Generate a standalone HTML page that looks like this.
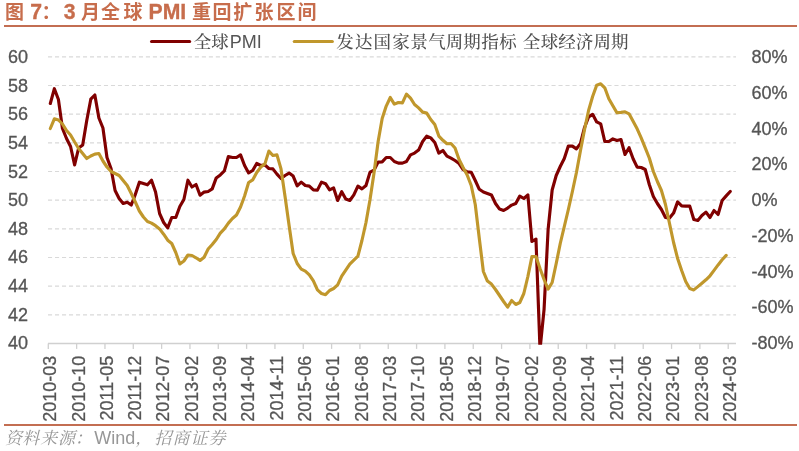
<!DOCTYPE html>
<html lang="zh-CN"><head><meta charset="utf-8"><title>图 7：3 月全球 PMI 重回扩张区间</title>
<style>html,body{margin:0;padding:0;background:#fff;}body{width:799px;height:451px;overflow:hidden;}svg{display:block;}text{white-space:pre;}.ax{stroke:#555555;stroke-width:0.3px;}</style>
</head><body>
<svg width="799" height="451" viewBox="0 0 799 451">
<rect x="0" y="0" width="799" height="451" fill="#ffffff"/>
<text y="19" font-family='"Liberation Sans", "Noto Sans CJK SC", sans-serif' font-weight="bold" fill="#C76D4C"><tspan x="4.90" font-size="19">图</tspan><tspan x="24.40" font-size="21.2" font-weight="bold" stroke="#C76D4C" stroke-width="0.3"> 7</tspan><tspan x="41.50" font-size="19">：</tspan><tspan x="63.70" font-size="21.2" font-weight="bold" stroke="#C76D4C" stroke-width="0.3">3 </tspan><tspan x="81.00" font-size="19">月</tspan><tspan x="101.00" font-size="19">全</tspan><tspan x="123.50" font-size="19">球</tspan><tspan x="142.70" font-size="21.2" font-weight="bold" stroke="#C76D4C" stroke-width="0.3"> PMI </tspan><tspan x="192.00" font-size="19">重</tspan><tspan x="212.50" font-size="19">回</tspan><tspan x="233.20" font-size="19">扩</tspan><tspan x="254.50" font-size="19">张</tspan><tspan x="276.50" font-size="19">区</tspan><tspan x="297.50" font-size="19">间</tspan></text>
<rect x="4" y="25" width="793" height="2" fill="#C36E52"/>
<line x1="48" y1="56.85" x2="736" y2="56.85" stroke="#D9D9D9" stroke-width="1.15" stroke-dasharray="4.1 2.893"/>
<line x1="48" y1="85.52" x2="736" y2="85.52" stroke="#D9D9D9" stroke-width="1.15" stroke-dasharray="4.1 2.893"/>
<line x1="48" y1="114.18" x2="736" y2="114.18" stroke="#D9D9D9" stroke-width="1.15" stroke-dasharray="4.1 2.893"/>
<line x1="48" y1="142.84" x2="736" y2="142.84" stroke="#D9D9D9" stroke-width="1.15" stroke-dasharray="4.1 2.893"/>
<line x1="48" y1="171.51" x2="736" y2="171.51" stroke="#D9D9D9" stroke-width="1.15" stroke-dasharray="4.1 2.893"/>
<line x1="48" y1="200.17" x2="736" y2="200.17" stroke="#D9D9D9" stroke-width="1.15" stroke-dasharray="4.1 2.893"/>
<line x1="48" y1="228.84" x2="736" y2="228.84" stroke="#D9D9D9" stroke-width="1.15" stroke-dasharray="4.1 2.893"/>
<line x1="48" y1="257.50" x2="736" y2="257.50" stroke="#D9D9D9" stroke-width="1.15" stroke-dasharray="4.1 2.893"/>
<line x1="48" y1="286.17" x2="736" y2="286.17" stroke="#D9D9D9" stroke-width="1.15" stroke-dasharray="4.1 2.893"/>
<line x1="48" y1="314.84" x2="736" y2="314.84" stroke="#D9D9D9" stroke-width="1.15" stroke-dasharray="4.1 2.893"/>
<line x1="48" y1="343.5" x2="736" y2="343.5" stroke="#D0D0D0" stroke-width="1.3"/>
<line x1="48.30" y1="343.5" x2="48.30" y2="348.9" stroke="#D0D0D0" stroke-width="1.3"/>
<line x1="76.63" y1="343.5" x2="76.63" y2="348.9" stroke="#D0D0D0" stroke-width="1.3"/>
<line x1="104.96" y1="343.5" x2="104.96" y2="348.9" stroke="#D0D0D0" stroke-width="1.3"/>
<line x1="133.29" y1="343.5" x2="133.29" y2="348.9" stroke="#D0D0D0" stroke-width="1.3"/>
<line x1="161.62" y1="343.5" x2="161.62" y2="348.9" stroke="#D0D0D0" stroke-width="1.3"/>
<line x1="189.95" y1="343.5" x2="189.95" y2="348.9" stroke="#D0D0D0" stroke-width="1.3"/>
<line x1="218.28" y1="343.5" x2="218.28" y2="348.9" stroke="#D0D0D0" stroke-width="1.3"/>
<line x1="246.61" y1="343.5" x2="246.61" y2="348.9" stroke="#D0D0D0" stroke-width="1.3"/>
<line x1="274.94" y1="343.5" x2="274.94" y2="348.9" stroke="#D0D0D0" stroke-width="1.3"/>
<line x1="303.26" y1="343.5" x2="303.26" y2="348.9" stroke="#D0D0D0" stroke-width="1.3"/>
<line x1="331.59" y1="343.5" x2="331.59" y2="348.9" stroke="#D0D0D0" stroke-width="1.3"/>
<line x1="359.92" y1="343.5" x2="359.92" y2="348.9" stroke="#D0D0D0" stroke-width="1.3"/>
<line x1="388.25" y1="343.5" x2="388.25" y2="348.9" stroke="#D0D0D0" stroke-width="1.3"/>
<line x1="416.58" y1="343.5" x2="416.58" y2="348.9" stroke="#D0D0D0" stroke-width="1.3"/>
<line x1="444.91" y1="343.5" x2="444.91" y2="348.9" stroke="#D0D0D0" stroke-width="1.3"/>
<line x1="473.24" y1="343.5" x2="473.24" y2="348.9" stroke="#D0D0D0" stroke-width="1.3"/>
<line x1="501.57" y1="343.5" x2="501.57" y2="348.9" stroke="#D0D0D0" stroke-width="1.3"/>
<line x1="529.90" y1="343.5" x2="529.90" y2="348.9" stroke="#D0D0D0" stroke-width="1.3"/>
<line x1="558.23" y1="343.5" x2="558.23" y2="348.9" stroke="#D0D0D0" stroke-width="1.3"/>
<line x1="586.56" y1="343.5" x2="586.56" y2="348.9" stroke="#D0D0D0" stroke-width="1.3"/>
<line x1="614.89" y1="343.5" x2="614.89" y2="348.9" stroke="#D0D0D0" stroke-width="1.3"/>
<line x1="643.22" y1="343.5" x2="643.22" y2="348.9" stroke="#D0D0D0" stroke-width="1.3"/>
<line x1="671.55" y1="343.5" x2="671.55" y2="348.9" stroke="#D0D0D0" stroke-width="1.3"/>
<line x1="699.88" y1="343.5" x2="699.88" y2="348.9" stroke="#D0D0D0" stroke-width="1.3"/>
<line x1="728.21" y1="343.5" x2="728.21" y2="348.9" stroke="#D0D0D0" stroke-width="1.3"/>
<text x="28" y="63.25" class="ax" text-anchor="end" font-family='"Liberation Sans", Arial, sans-serif' font-size="18" fill="#555555">60</text>
<text x="28" y="91.84" class="ax" text-anchor="end" font-family='"Liberation Sans", Arial, sans-serif' font-size="18" fill="#555555">58</text>
<text x="28" y="120.42" class="ax" text-anchor="end" font-family='"Liberation Sans", Arial, sans-serif' font-size="18" fill="#555555">56</text>
<text x="28" y="149.00" class="ax" text-anchor="end" font-family='"Liberation Sans", Arial, sans-serif' font-size="18" fill="#555555">54</text>
<text x="28" y="177.59" class="ax" text-anchor="end" font-family='"Liberation Sans", Arial, sans-serif' font-size="18" fill="#555555">52</text>
<text x="28" y="206.17" class="ax" text-anchor="end" font-family='"Liberation Sans", Arial, sans-serif' font-size="18" fill="#555555">50</text>
<text x="28" y="234.76" class="ax" text-anchor="end" font-family='"Liberation Sans", Arial, sans-serif' font-size="18" fill="#555555">48</text>
<text x="28" y="263.34" class="ax" text-anchor="end" font-family='"Liberation Sans", Arial, sans-serif' font-size="18" fill="#555555">46</text>
<text x="28" y="291.93" class="ax" text-anchor="end" font-family='"Liberation Sans", Arial, sans-serif' font-size="18" fill="#555555">44</text>
<text x="28" y="320.51" class="ax" text-anchor="end" font-family='"Liberation Sans", Arial, sans-serif' font-size="18" fill="#555555">42</text>
<text x="28" y="349.10" class="ax" text-anchor="end" font-family='"Liberation Sans", Arial, sans-serif' font-size="18" fill="#555555">40</text>
<text class="ax" x="751.6" y="63.25" font-family='"Liberation Sans", Arial, sans-serif' font-size="18" fill="#555555">80%</text>
<text class="ax" x="751.6" y="98.97" font-family='"Liberation Sans", Arial, sans-serif' font-size="18" fill="#555555">60%</text>
<text class="ax" x="751.6" y="134.69" font-family='"Liberation Sans", Arial, sans-serif' font-size="18" fill="#555555">40%</text>
<text class="ax" x="751.6" y="170.41" font-family='"Liberation Sans", Arial, sans-serif' font-size="18" fill="#555555">20%</text>
<text class="ax" x="751.6" y="206.12" font-family='"Liberation Sans", Arial, sans-serif' font-size="18" fill="#555555">0%</text>
<text class="ax" x="751.6" y="241.84" font-family='"Liberation Sans", Arial, sans-serif' font-size="18" fill="#555555">-20%</text>
<text class="ax" x="751.6" y="277.56" font-family='"Liberation Sans", Arial, sans-serif' font-size="18" fill="#555555">-40%</text>
<text class="ax" x="751.6" y="313.28" font-family='"Liberation Sans", Arial, sans-serif' font-size="18" fill="#555555">-60%</text>
<text class="ax" x="751.6" y="349.00" font-family='"Liberation Sans", Arial, sans-serif' font-size="18" fill="#555555">-80%</text>
<text transform="translate(56.17,355.7) rotate(-90)" class="ax" text-anchor="end" font-family='"Liberation Sans", Arial, sans-serif' font-size="18" fill="#555555">2010-03</text>
<text transform="translate(84.50,355.7) rotate(-90)" class="ax" text-anchor="end" font-family='"Liberation Sans", Arial, sans-serif' font-size="18" fill="#555555">2010-10</text>
<text transform="translate(112.83,355.7) rotate(-90)" class="ax" text-anchor="end" font-family='"Liberation Sans", Arial, sans-serif' font-size="18" fill="#555555">2011-05</text>
<text transform="translate(141.16,355.7) rotate(-90)" class="ax" text-anchor="end" font-family='"Liberation Sans", Arial, sans-serif' font-size="18" fill="#555555">2011-12</text>
<text transform="translate(169.49,355.7) rotate(-90)" class="ax" text-anchor="end" font-family='"Liberation Sans", Arial, sans-serif' font-size="18" fill="#555555">2012-07</text>
<text transform="translate(197.82,355.7) rotate(-90)" class="ax" text-anchor="end" font-family='"Liberation Sans", Arial, sans-serif' font-size="18" fill="#555555">2013-02</text>
<text transform="translate(226.15,355.7) rotate(-90)" class="ax" text-anchor="end" font-family='"Liberation Sans", Arial, sans-serif' font-size="18" fill="#555555">2013-09</text>
<text transform="translate(254.48,355.7) rotate(-90)" class="ax" text-anchor="end" font-family='"Liberation Sans", Arial, sans-serif' font-size="18" fill="#555555">2014-04</text>
<text transform="translate(282.81,355.7) rotate(-90)" class="ax" text-anchor="end" font-family='"Liberation Sans", Arial, sans-serif' font-size="18" fill="#555555">2014-11</text>
<text transform="translate(311.14,355.7) rotate(-90)" class="ax" text-anchor="end" font-family='"Liberation Sans", Arial, sans-serif' font-size="18" fill="#555555">2015-06</text>
<text transform="translate(339.47,355.7) rotate(-90)" class="ax" text-anchor="end" font-family='"Liberation Sans", Arial, sans-serif' font-size="18" fill="#555555">2016-01</text>
<text transform="translate(367.80,355.7) rotate(-90)" class="ax" text-anchor="end" font-family='"Liberation Sans", Arial, sans-serif' font-size="18" fill="#555555">2016-08</text>
<text transform="translate(396.13,355.7) rotate(-90)" class="ax" text-anchor="end" font-family='"Liberation Sans", Arial, sans-serif' font-size="18" fill="#555555">2017-03</text>
<text transform="translate(424.46,355.7) rotate(-90)" class="ax" text-anchor="end" font-family='"Liberation Sans", Arial, sans-serif' font-size="18" fill="#555555">2017-10</text>
<text transform="translate(452.79,355.7) rotate(-90)" class="ax" text-anchor="end" font-family='"Liberation Sans", Arial, sans-serif' font-size="18" fill="#555555">2018-05</text>
<text transform="translate(481.11,355.7) rotate(-90)" class="ax" text-anchor="end" font-family='"Liberation Sans", Arial, sans-serif' font-size="18" fill="#555555">2018-12</text>
<text transform="translate(509.44,355.7) rotate(-90)" class="ax" text-anchor="end" font-family='"Liberation Sans", Arial, sans-serif' font-size="18" fill="#555555">2019-07</text>
<text transform="translate(537.77,355.7) rotate(-90)" class="ax" text-anchor="end" font-family='"Liberation Sans", Arial, sans-serif' font-size="18" fill="#555555">2020-02</text>
<text transform="translate(566.10,355.7) rotate(-90)" class="ax" text-anchor="end" font-family='"Liberation Sans", Arial, sans-serif' font-size="18" fill="#555555">2020-09</text>
<text transform="translate(594.43,355.7) rotate(-90)" class="ax" text-anchor="end" font-family='"Liberation Sans", Arial, sans-serif' font-size="18" fill="#555555">2021-04</text>
<text transform="translate(622.76,355.7) rotate(-90)" class="ax" text-anchor="end" font-family='"Liberation Sans", Arial, sans-serif' font-size="18" fill="#555555">2021-11</text>
<text transform="translate(651.09,355.7) rotate(-90)" class="ax" text-anchor="end" font-family='"Liberation Sans", Arial, sans-serif' font-size="18" fill="#555555">2022-06</text>
<text transform="translate(679.42,355.7) rotate(-90)" class="ax" text-anchor="end" font-family='"Liberation Sans", Arial, sans-serif' font-size="18" fill="#555555">2023-01</text>
<text transform="translate(707.75,355.7) rotate(-90)" class="ax" text-anchor="end" font-family='"Liberation Sans", Arial, sans-serif' font-size="18" fill="#555555">2023-08</text>
<text transform="translate(736.08,355.7) rotate(-90)" class="ax" text-anchor="end" font-family='"Liberation Sans", Arial, sans-serif' font-size="18" fill="#555555">2024-03</text>
<clipPath id="pc"><rect x="46" y="50" width="692" height="294.8"/></clipPath>
<g clip-path="url(#pc)" fill="none" stroke-linejoin="round" stroke-linecap="round">
<polyline points="50.32,103.50 54.37,88.70 58.42,99.50 62.46,128.50 66.51,138.50 70.56,146.50 74.61,164.90 78.65,148.00 82.70,144.90 86.75,120.50 90.79,99.20 94.84,95.00 98.89,118.00 102.94,128.00 106.98,157.50 111.03,168.50 115.08,190.50 119.12,198.50 123.17,203.50 127.22,202.20 131.26,205.00 135.31,194.50 139.36,182.20 143.41,183.50 147.45,184.80 151.50,180.20 155.55,192.00 159.59,213.50 163.64,222.50 167.69,227.90 171.74,217.50 175.78,217.50 179.83,206.50 183.88,199.50 187.92,180.20 191.97,187.00 196.02,184.50 200.06,195.20 204.11,192.10 208.16,191.50 212.21,188.90 216.25,177.90 220.30,174.90 224.35,170.90 228.39,156.50 232.44,157.50 236.49,157.50 240.54,154.90 244.58,165.50 248.63,172.90 252.68,170.50 256.72,163.50 260.77,165.50 264.82,164.90 268.86,168.50 272.91,168.90 276.96,174.10 281.01,178.50 285.05,175.50 289.10,173.10 293.15,176.10 297.19,185.90 301.24,182.10 305.29,185.50 309.34,186.10 313.38,189.90 317.43,190.10 321.48,182.10 325.52,183.70 329.57,189.90 333.62,187.90 337.66,200.50 341.71,191.70 345.76,199.10 349.81,200.50 353.85,194.90 357.90,186.10 361.95,188.90 365.99,185.50 370.04,172.10 374.09,170.10 378.14,162.10 382.18,161.90 386.23,157.50 390.28,157.50 394.32,161.50 398.37,163.10 402.42,163.10 406.46,161.50 410.51,154.90 414.56,153.10 418.61,150.10 422.65,141.50 426.70,136.10 430.75,137.90 434.79,142.50 438.84,153.10 442.89,150.50 446.94,156.10 450.98,158.10 455.03,160.50 459.08,163.50 463.12,169.50 467.17,171.90 471.22,172.30 475.26,180.50 479.31,189.30 483.36,192.00 487.41,193.50 491.45,195.00 495.50,203.50 499.55,209.10 503.59,210.50 507.64,208.10 511.69,205.10 515.74,203.50 519.78,196.10 523.83,198.50 527.88,194.90 531.92,241.50 535.97,239.10 540.02,349.50 544.06,309.50 548.11,229.50 552.16,190.00 556.21,175.50 560.25,166.50 564.30,158.50 568.35,146.10 572.39,146.10 576.44,148.90 580.49,143.50 584.54,127.50 588.58,116.90 592.63,114.30 596.68,121.90 600.72,123.90 604.77,141.50 608.82,141.50 612.86,138.90 616.91,140.50 620.96,139.50 625.01,154.50 629.05,147.70 633.10,158.70 637.15,167.10 641.19,167.50 645.24,169.50 649.29,184.50 653.34,196.50 657.38,203.50 661.43,209.50 665.48,217.50 669.52,218.10 673.57,213.10 677.62,201.90 681.66,205.90 685.71,206.10 689.76,206.10 693.81,219.50 697.85,220.50 701.90,215.50 705.95,212.10 709.99,217.50 714.04,210.50 718.09,214.50 722.14,200.50 726.18,195.90 730.23,191.50" stroke="#800000" stroke-width="3.15"/>
<polyline points="50.32,128.50 54.37,118.80 58.42,120.00 62.46,124.00 66.51,130.50 70.56,135.00 74.61,142.00 78.65,148.50 82.70,153.50 86.75,158.50 90.79,156.00 94.84,154.10 98.89,153.50 102.94,161.00 106.98,167.00 111.03,171.50 115.08,173.50 119.12,175.50 123.17,180.50 127.22,185.50 131.26,193.50 135.31,202.00 139.36,211.00 143.41,217.00 147.45,221.50 151.50,223.10 155.55,225.70 159.59,228.90 163.64,234.20 167.69,240.20 171.74,243.50 175.78,252.50 179.83,264.00 183.88,261.00 187.92,255.00 191.97,255.50 196.02,257.80 200.06,260.50 204.11,257.20 208.16,249.00 212.21,244.50 216.25,239.50 220.30,233.10 224.35,228.90 228.39,223.10 232.44,218.50 236.49,215.00 240.54,207.00 244.58,196.00 248.63,182.50 252.68,179.90 256.72,172.50 260.77,167.10 264.82,164.10 268.86,151.10 272.91,155.50 276.96,154.90 281.01,168.90 285.05,196.50 289.10,225.50 293.15,253.50 297.19,263.50 301.24,269.10 305.29,271.10 309.34,274.90 313.38,280.90 317.43,289.90 321.48,293.50 325.52,294.70 329.57,290.50 333.62,288.50 337.66,284.90 341.71,276.10 345.76,270.10 349.81,264.10 353.85,260.10 357.90,256.10 361.95,240.50 365.99,222.50 370.04,199.50 374.09,172.50 378.14,141.50 382.18,118.50 386.23,106.10 390.28,97.50 394.32,104.10 398.37,102.50 402.42,102.90 406.46,94.10 410.51,98.10 414.56,104.50 418.61,107.90 422.65,112.10 426.70,113.10 430.75,119.50 434.79,124.50 438.84,136.10 442.89,140.30 446.94,143.70 450.98,143.50 455.03,148.00 459.08,159.50 463.12,167.50 467.17,175.00 471.22,185.50 475.26,204.50 479.31,238.50 483.36,271.50 487.41,281.10 491.45,284.10 495.50,289.50 499.55,295.50 503.59,301.50 507.64,307.10 511.69,300.50 515.74,304.50 519.78,302.50 523.83,293.50 527.88,276.50 531.92,256.60 535.97,256.50 540.02,268.50 544.06,279.50 548.11,289.10 552.16,282.50 556.21,263.50 560.25,243.50 564.30,226.50 568.35,209.50 572.39,191.50 576.44,172.50 580.49,150.50 584.54,129.50 588.58,110.50 592.63,96.50 596.68,85.20 600.72,83.80 604.77,87.80 608.82,98.80 612.86,105.80 616.91,112.80 620.96,112.40 625.01,111.80 629.05,113.80 633.10,121.20 637.15,128.80 641.19,137.80 645.24,147.80 649.29,158.00 653.34,171.50 657.38,181.50 661.43,190.50 665.48,204.50 669.52,223.50 673.57,242.50 677.62,258.50 681.66,270.50 685.71,281.50 689.76,288.50 693.81,289.90 697.85,286.60 701.90,283.20 705.95,279.80 709.99,275.80 714.04,270.40 718.09,264.90 722.14,259.80 726.18,255.40" stroke="#C0972C" stroke-width="3.15"/>
</g>
<line x1="151.6" y1="41.5" x2="189.6" y2="41.5" stroke="#800000" stroke-width="3.2" stroke-linecap="round"/>
<text y="48.3" font-family='"Liberation Sans", "Noto Serif CJK SC", "Noto Sans CJK SC", serif' fill="#505050"><tspan x="193.75 211.25" font-size="17.5" font-weight="500">全球</tspan><tspan x="229.8" font-size="18" fill="#555555">PMI</tspan></text>
<line x1="294.3" y1="41.5" x2="332.3" y2="41.5" stroke="#C0972C" stroke-width="3.2" stroke-linecap="round"/>
<text y="48.3" font-family='"Liberation Sans", "Noto Serif CJK SC", "Noto Sans CJK SC", serif' font-size="17.5" font-weight="500" fill="#505050"><tspan x="336.25 354.95 373.45 392.25 410.25 428.25 445.75 463.25 481.25 499.25">发达国家景气周期指标</tspan><tspan x="517"> </tspan><tspan x="522.65 540.75 558.25 575.75 593.55 611.05">全球经济周期</tspan></text>
<rect x="4" y="424" width="793" height="2" fill="#C36E52"/>
<text y="443.5" font-family='"Liberation Sans", "Noto Serif CJK SC", "Noto Sans CJK SC", serif' fill="#979797"><tspan x="5" font-size="17" font-style="italic">资</tspan><tspan x="22.3" font-size="17" font-style="italic">料</tspan><tspan x="40.3" font-size="17" font-style="italic">来</tspan><tspan x="58" font-size="17" font-style="italic">源</tspan><tspan x="75" font-size="17" font-style="italic">：</tspan><tspan x="94.3" font-size="18">Wind</tspan><tspan x="135.3" font-size="17" font-style="italic">，</tspan><tspan x="154.5" font-size="17" font-style="italic">招</tspan><tspan x="172.5" font-size="17" font-style="italic">商</tspan><tspan x="190.5" font-size="17" font-style="italic">证</tspan><tspan x="208.5" font-size="17" font-style="italic">券</tspan></text>
</svg></body></html>
